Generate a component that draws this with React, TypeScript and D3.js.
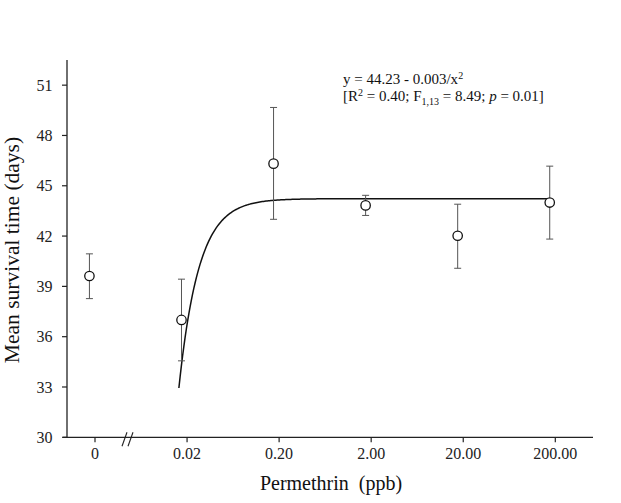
import * as d3 from "d3";

// nominal doses shown on the axis (0 = control)
const tickDoses = [0.002, 0.02, 0.2, 2, 20, 200];
const tickLabels = ["0", "0.02", "0.20", "2.00", "20.00", "200.00"];

// measured concentrations, control placed one decade below the lowest dose
const doses = [0.00174, 0.0174, 0.174, 1.74, 17.4, 174];
const meanSurvival = [39.62, 37.0, 46.32, 43.83, 42.02, 44.0];
const errUpper = [40.94, 39.43, 49.67, 44.43, 43.9, 46.17];
const errLower = [38.27, 34.56, 43.0, 43.23, 40.08, 41.82];

const yTicks = [30, 33, 36, 39, 42, 45, 48, 51];

// fitted model: y = a - b / x^2
const fitA = 44.23;
const fitB = 0.003;
const fitFrom = 0.0163;
const fitTo = 185;

const W = 621;
const H = 503;
const FONT = "'Liberation Serif', 'Times New Roman', serif";

export default function App() {
  const x = d3.scaleLog().domain([0.002, 200]).range([95, 555.3]);
  const y = d3.scaleLinear().domain([30, 52.5]).range([437.3, 60]);

  const xAxisStart = 63;
  const xAxisEnd = 593;
  const yAxisX = 67;
  const axisY = y(30);

  const fitPts = d3
    .range(0, 301)
    .map((i) => Math.exp(Math.log(fitFrom) + (i / 300) * (Math.log(fitTo) - Math.log(fitFrom))))
    .map((d) => [d, fitA - fitB / (d * d)] as [number, number]);
  const fitLine = d3
    .line<[number, number]>()
    .x((d) => x(d[0]))
    .y((d) => y(d[1]))
    .curve(d3.curveLinear)(fitPts);

  const breakX = 128;

  return (
    <svg
      width={W}
      height={H}
      style={{ position: "absolute", left: 0, top: 0, background: "#fff" }}
      fontFamily={FONT}
    >
      {/* y axis */}
      <line x1={yAxisX} x2={yAxisX} y1={60} y2={axisY} stroke="#222" strokeWidth={1.3} />
      {yTicks.map((t) => (
        <g key={t} transform={`translate(0,${y(t)})`}>
          <line x1={yAxisX - 5} x2={yAxisX} stroke="#222" strokeWidth={1.2} />
          <text x={52.5} dy="0.35em" textAnchor="end" fontSize={16} fill="#222">
            {t}
          </text>
        </g>
      ))}

      {/* x axis with break marks */}
      <line x1={xAxisStart} x2={xAxisEnd} y1={axisY} y2={axisY} stroke="#222" strokeWidth={1.3} />
      {tickDoses.map((d, i) => (
        <g key={d} transform={`translate(${x(d)},${axisY})`}>
          <line y1={0} y2={5} stroke="#222" strokeWidth={1.2} />
          <text y={21.5} textAnchor="middle" fontSize={16} fill="#222">
            {tickLabels[i]}
          </text>
        </g>
      ))}
      <line x1={breakX - 6} x2={breakX - 1} y1={axisY + 9} y2={axisY - 5} stroke="#222" strokeWidth={1.1} />
      <line x1={breakX} x2={breakX + 5} y1={axisY + 9} y2={axisY - 5} stroke="#222" strokeWidth={1.1} />

      {/* fitted curve */}
      <path d={fitLine ?? ""} fill="none" stroke="#111" strokeWidth={1.5} />

      {/* error bars */}
      {doses.map((d, i) => (
        <g key={`e${i}`} stroke="#555" strokeWidth={1}>
          <line x1={x(d)} x2={x(d)} y1={y(errUpper[i])} y2={y(errLower[i])} />
          <line x1={x(d) - 3.5} x2={x(d) + 3.5} y1={y(errUpper[i])} y2={y(errUpper[i])} />
          <line x1={x(d) - 3.5} x2={x(d) + 3.5} y1={y(errLower[i])} y2={y(errLower[i])} />
        </g>
      ))}

      {/* means */}
      {doses.map((d, i) => (
        <circle key={`c${i}`} cx={x(d)} cy={y(meanSurvival[i])} r={4.7} fill="#fff" stroke="#111" strokeWidth={1.3} />
      ))}

      {/* equation */}
      <text x={343} y={84} fontSize={15} fill="#111">
        y = 44.23 - 0.003/x
        <tspan dy={-5} fontSize={10}>2</tspan>
      </text>
      <text x={343} y={101} fontSize={15} fill="#111">
        [R<tspan dy={-5} fontSize={10}>2</tspan>
        <tspan dy={5}> = 0.40; F</tspan>
        <tspan dy={4} fontSize={10}>1,13</tspan>
        <tspan dy={-4}> = 8.49; </tspan>
        <tspan fontStyle="italic">p</tspan> = 0.01]
      </text>

      {/* axis titles */}
      <text x={331} y={490} textAnchor="middle" fontSize={20} fill="#111" xmlSpace="preserve">
        Permethrin  (ppb)
      </text>
      <text
        transform="translate(19,250) rotate(-90)"
        textAnchor="middle"
        fontSize={21.5}
        fill="#111"
      >
        Mean survival time (days)
      </text>
    </svg>
  );
}
